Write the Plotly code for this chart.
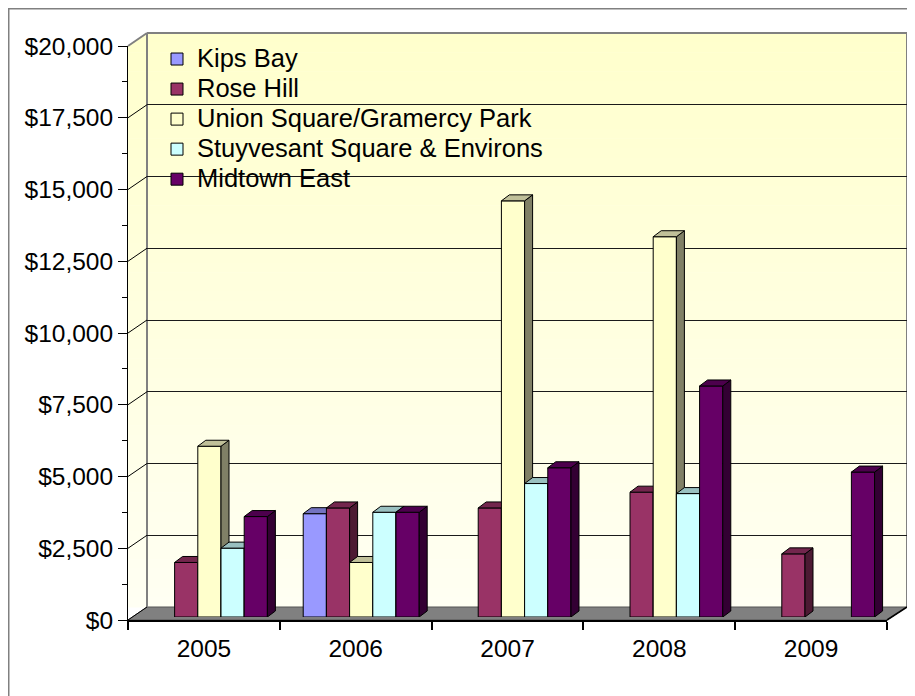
import plotly.graph_objects as go

# ---------------- data ----------------
years = ["2005", "2006", "2007", "2008", "2009"]
series_names = ["Kips Bay", "Rose Hill", "Union Square/Gramercy Park",
                "Stuyvesant Square & Environs", "Midtown East"]
kips_bay = [None, 3600, None, None, None]
rose_hill = [1900, 3800, 3800, 4350, 2200]
union_square = [5950, 1900, 14500, 13250, None]
stuyvesant = [2400, 3650, 4650, 4300, None]
midtown_east = [3500, 3650, 5200, 8050, 5050]
y_tick_values = [0, 2500, 5000, 7500, 10000, 12500, 15000, 17500, 20000]
y_max = 20000

series_values = [kips_bay, rose_hill, union_square, stuyvesant, midtown_east]

# ---------------- styles ----------------
front_colors = ["#9999FF", "#993366", "#FFFFCC", "#CCFFFF", "#660066"]
top_colors = ["#7373C0", "#73264D", "#C0C099", "#99C0C0", "#4D004D"]
side_colors = ["#5C5C99", "#4D1A33", "#808066", "#668080", "#330033"]
FONT = "Liberation Sans, Arial, sans-serif"

PAGE_OFF = 8            # browser body margin
W, H = 915 - PAGE_OFF, 696 - PAGE_OFF
FRONT_L, FRONT_R = 128, 887
FRONT_Y0, FRONT_Y1 = 620, 46
BACK_L, BACK_R = 147, 907
BACK_Y0, BACK_Y1 = 607, 33
BAR_SHIFT = 5.5
BAR_Y0 = 617
DEPTH_X, DEPTH_Y = 8, 6
GROUP_FRAC = 0.764


def fx(x):
    return (x - PAGE_OFF) / W


def fy(y):
    return 1 - (y - PAGE_OFF) / H


def P(x, y):
    return f"{fx(x):.5f},{fy(y):.5f}"


fig = go.Figure()

# dummy trace for front axes
fig.add_trace(go.Scatter(x=years, y=[None] * len(years), xaxis="x", yaxis="y",
                         showlegend=False, hoverinfo="skip", mode="markers"))
# dummy trace for back wall (gridlines)
fig.add_trace(go.Scatter(x=[0], y=[None], xaxis="x2", yaxis="y2",
                         showlegend=False, hoverinfo="skip", mode="markers"))

# bar geometry in data units
unit_px = (FRONT_R - FRONT_L) / len(years)
dx = DEPTH_X / unit_px
dy = DEPTH_Y / (FRONT_Y0 - FRONT_Y1) * y_max
bw = GROUP_FRAC / len(series_values)
xs = list(range(len(years)))

for i, (name, vals) in enumerate(zip(series_names, series_values)):
    xa, ya = f"x{3 + i}", f"y{3 + i}"
    off = -GROUP_FRAC / 2 + i * bw
    fig.add_trace(go.Bar(
        x=xs, y=vals, name=f'<span style="font-size:25.5px">{name}</span>',
        xaxis=xa, yaxis=ya,
        width=bw, offset=off,
        marker=dict(color=front_colors[i], line=dict(color="#000000", width=1)),
        hoverinfo="skip",
    ))
    for xc, v in zip(xs, vals):
        if v is None:
            continue
        xl = xc + off
        xr = xl + bw
        # side face
        fig.add_trace(go.Scatter(
            x=[xr, xr + dx, xr + dx, xr, xr], y=[0, dy, v + dy, v, 0],
            xaxis=xa, yaxis=ya, mode="lines", fill="toself",
            fillcolor=side_colors[i], line=dict(color="#000000", width=1),
            showlegend=False, hoverinfo="skip"))
        # top face
        fig.add_trace(go.Scatter(
            x=[xl, xr, xr + dx, xl + dx, xl], y=[v, v, v + dy, v + dy, v],
            xaxis=xa, yaxis=ya, mode="lines", fill="toself",
            fillcolor=top_colors[i], line=dict(color="#000000", width=1),
            showlegend=False, hoverinfo="skip"))

shapes = []
# outer frame
shapes.append(dict(type="rect", xref="paper", yref="paper", layer="below",
                   x0=fx(8.75), y0=fy(8.75), x1=fx(960), y1=fy(740),
                   line=dict(color="#808080", width=1.5), fillcolor="rgba(0,0,0,0)"))
# gradient walls
N = 60
top_c = (255, 255, 204)
bot_c = (255, 255, 243)
for k in range(N):
    y0 = BACK_Y1 + (BACK_Y0 - BACK_Y1) * k / N
    y1 = BACK_Y1 + (BACK_Y0 - BACK_Y1) * (k + 1) / N + 0.6
    t = (k + 0.5) / N
    c = tuple(round(a + (b - a) * t) for a, b in zip(top_c, bot_c))
    shapes.append(dict(type="rect", xref="paper", yref="paper", layer="below",
                       x0=fx(FRONT_L), x1=fx(BACK_R), y0=fy(y0), y1=fy(min(y1, BACK_Y0 + 13)),
                       line=dict(width=0), fillcolor=f"rgb{c}"))
# white corner above the left wall
shapes.append(dict(type="path", xref="paper", yref="paper", layer="below",
                   path=f"M{P(FRONT_L - 1, BACK_Y1 - 1)} L{P(BACK_L, BACK_Y1 - 1)} L{P(BACK_L, BACK_Y1)} L{P(FRONT_L, FRONT_Y1)} L{P(FRONT_L - 1, FRONT_Y1)} Z",
                   line=dict(width=0), fillcolor="#FFFFFF"))
# floor
shapes.append(dict(type="path", xref="paper", yref="paper", layer="below",
                   path=f"M{P(FRONT_L, FRONT_Y0)} L{P(FRONT_R, FRONT_Y0)} L{P(BACK_R, BACK_Y0)} L{P(BACK_L, BACK_Y0)} Z",
                   line=dict(color="#555555", width=1), fillcolor="#808080"))
# wall edges
edge = dict(color="#808080", width=2)
for (a, b) in [((BACK_L, BACK_Y1), (BACK_R, BACK_Y1)),
               ((BACK_R, BACK_Y1), (BACK_R, BACK_Y0)),
               ((BACK_L, BACK_Y1), (BACK_L, BACK_Y0)),
               ((FRONT_L, FRONT_Y1), (BACK_L, BACK_Y1))]:
    shapes.append(dict(type="line", xref="paper", yref="paper", layer="below",
                       x0=fx(a[0]), y0=fy(a[1]), x1=fx(b[0]), y1=fy(b[1]), line=edge))
shapes.append(dict(type="line", xref="paper", yref="paper", layer="below",
                   x0=fx(FRONT_R), y0=fy(FRONT_Y0), x1=fx(BACK_R), y1=fy(BACK_Y0),
                   line=dict(color="#000000", width=1.5)))
# tick connectors from front axis to back wall
for v in y_tick_values[:-1]:
    yf = FRONT_Y0 - (FRONT_Y0 - FRONT_Y1) * v / y_max
    yb = BACK_Y0 - (BACK_Y0 - BACK_Y1) * v / y_max
    shapes.append(dict(type="line", xref="paper", yref="paper", layer="below",
                       x0=fx(FRONT_L), y0=fy(yf), x1=fx(BACK_L), y1=fy(yb),
                       line=dict(color="#000000", width=1)))

layout = dict(
    width=W, height=H, autosize=False,
    margin=dict(l=0, r=0, t=0, b=0),
    paper_bgcolor="#FFFFFF", plot_bgcolor="rgba(0,0,0,0)",
    font=dict(family=FONT, size=24, color="#000000"),
    barmode="overlay",
    showlegend=True,
    legend=dict(x=fx(157), y=fy(39), xanchor="left", yanchor="top",
                bgcolor="rgba(0,0,0,0)", borderwidth=0,
                font=dict(family=FONT, size=20.8, color="#000000")),
    shapes=shapes,
    xaxis=dict(domain=[fx(FRONT_L), fx(FRONT_R)], type="category",
               categoryorder="array", categoryarray=years, range=[-0.5, 4.5],
               tickson="boundaries", ticks="outside", ticklen=8, tickwidth=1.5,
               tickcolor="#000000", showline=True, linecolor="#000000", linewidth=2,
               showgrid=False, zeroline=False, automargin=False, fixedrange=True,
               ticklabelstandoff=6,
               tickfont=dict(family=FONT, size=24.5, color="#000000"), anchor="y"),
    yaxis=dict(domain=[fy(FRONT_Y0), fy(FRONT_Y1)], range=[0, y_max],
               tickvals=y_tick_values,
               ticktext=[f"${v:,}" for v in y_tick_values],
               ticks="outside", ticklen=9, tickwidth=1, tickcolor="#000000",
               minor=dict(dtick=1250, tick0=0, ticks="outside", ticklen=5,
                          tickcolor="#000000", showgrid=False),
               showline=True, linecolor="#000000", linewidth=1,
               showgrid=False, zeroline=False, automargin=False, fixedrange=True,
               tickfont=dict(family=FONT, size=24.5, color="#000000"), anchor="x"),
    xaxis2=dict(domain=[fx(BACK_L), fx(BACK_R)], range=[0, 1], visible=False,
                anchor="y2", fixedrange=True),
    yaxis2=dict(domain=[fy(BACK_Y0), fy(BACK_Y1)], range=[0, y_max],
                tickvals=y_tick_values[1:], showticklabels=False, ticks="",
                showgrid=True, gridcolor="#1A1A1A", gridwidth=1,
                showline=False, zeroline=False, anchor="x2", fixedrange=True),
)
bar_ydom = [fy(BAR_Y0), fy(BAR_Y0 - (FRONT_Y0 - FRONT_Y1))]
for i in range(len(series_values)):
    xk, yk = f"xaxis{3 + i}", f"yaxis{3 + i}"
    xd = dict(domain=[fx(FRONT_L + BAR_SHIFT), fx(FRONT_R + BAR_SHIFT)],
              range=[-0.5, 4.5], visible=False, anchor=f"y{3 + i}", fixedrange=True)
    yd = dict(domain=bar_ydom, range=[0, y_max], visible=False,
              anchor=f"x{3 + i}", fixedrange=True)
    if i > 0:
        xd["overlaying"] = "x3"
        yd["overlaying"] = "y3"
    layout[xk] = xd
    layout[yk] = yd

fig.update_layout(**layout)
fig.write_html("out.html")
